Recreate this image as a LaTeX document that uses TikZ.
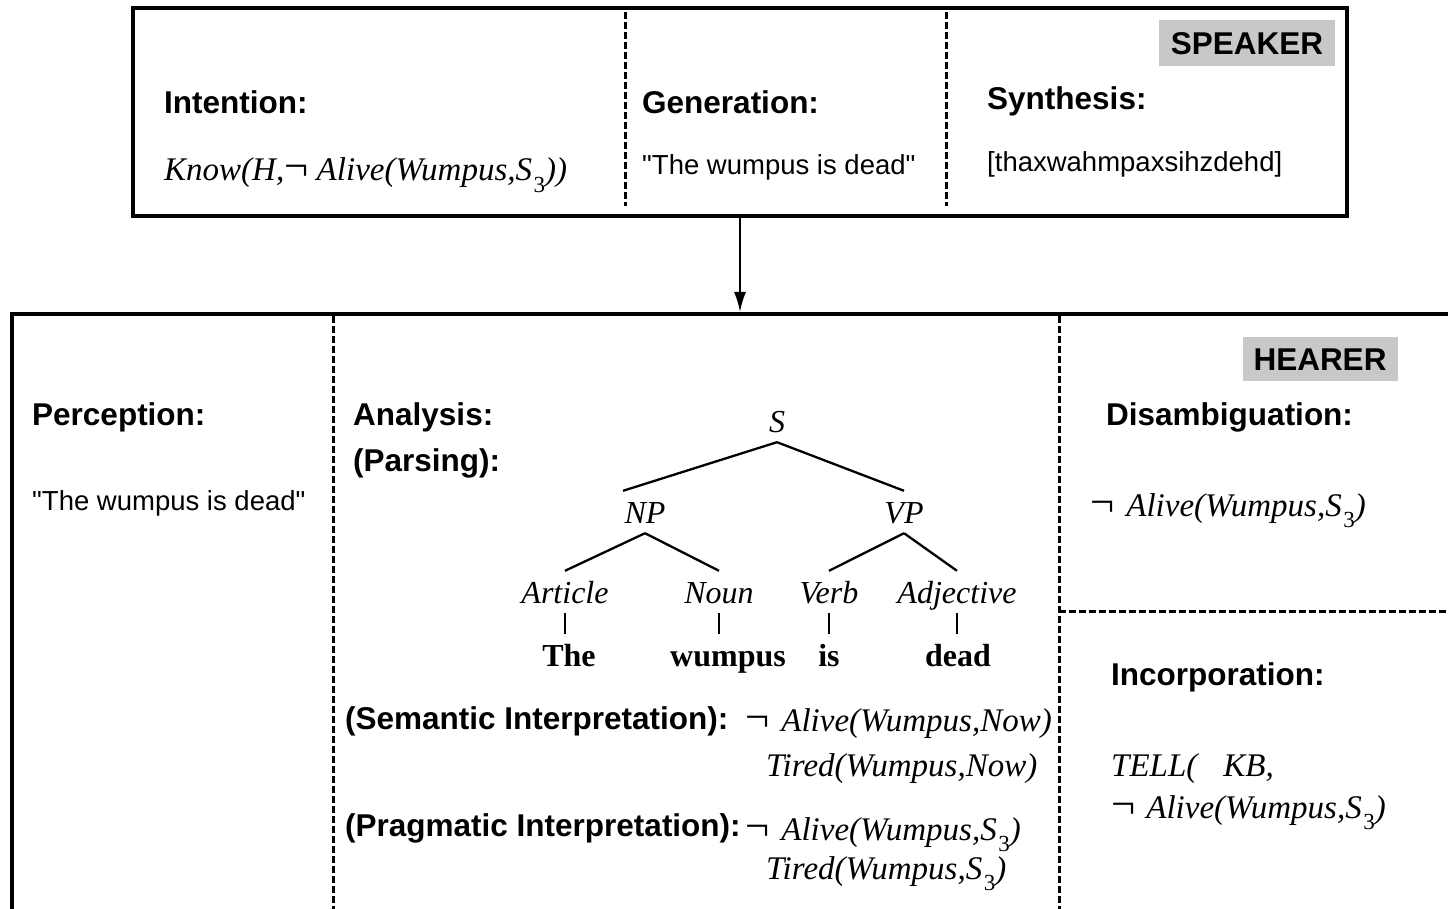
\documentclass[tikz,border=0pt]{standalone}
\usepackage{fontspec}
\usepackage{graphicx}
\setmainfont{Liberation Serif}
\setsansfont{Liberation Sans}[Ligatures=TeXOff]
\usetikzlibrary{arrows.meta}
\definecolor{tagbg}{RGB}{200,200,200}
\newcommand{\subthree}{\kern1.5pt\raisebox{-0.34em}{\upshape\fontsize{23}{23}\selectfont 3}}
\newcommand{\negsym}{\scalebox{1.3}{\upshape ¬}}
\tikzset{
  lab/.style={anchor=base west, inner sep=0pt, font=\sffamily\bfseries\fontsize{31.5}{36}\selectfont},
  plain/.style={anchor=base west, inner sep=0pt, font=\sffamily\fontsize{27.5}{32}\selectfont},
  form/.style={anchor=base west, inner sep=0pt, font=\itshape\fontsize{33}{36}\selectfont},
  tnode/.style={anchor=base, inner xsep=0pt, inner ysep=10pt, text height=22pt, text depth=0pt, font=\itshape\fontsize{32}{36}\selectfont},
  word/.style={anchor=base, inner xsep=0pt, inner ysep=10pt, text height=22pt, text depth=0pt, font=\bfseries\fontsize{32}{36}\selectfont},
  tag/.style={fill=tagbg, inner sep=0pt, text height=23pt, text depth=0pt, font=\sffamily\bfseries\fontsize{31.5}{36}\selectfont},
  frame/.style={line width=4pt},
  divider/.style={line width=3pt, dash pattern=on 7pt off 3pt},
  branch/.style={line width=2.3pt},
  flow/.style={line width=2pt, -{Latex[length=20pt,width=12pt]}}
}
\begin{document}
\begin{tikzpicture}[x=1pt,y=-1pt]
\useasboundingbox (0,0) rectangle (1448,909);
\clip (0,0) rectangle (1448,909);
% speaker box
\draw[frame] (133,8) rectangle (1347,216);
\draw[divider] (625,12) -- (625,206);
\draw[divider] (946,12) -- (946,206);
\node[tag, minimum width=176pt, minimum height=46pt] (spk) at (1247,43) {SPEAKER};
\node[lab] (intl) at (164,114) {Intention:};
\node[form] (intf) at (164,181) {Know(H,\negsym\ Alive(Wumpus,S\subthree))};
\node[lab] (genl) at (642,114) {Generation:};
\node[plain] (genf) at (642,175) {"The wumpus is dead"};
\node[lab] (synl) at (987,110) {Synthesis:};
\node[plain] (synf) at (987,172) {[thaxwahmpaxsihzdehd]};
% arrow
\coordinate (src) at (740,218);
\coordinate (dst) at (740,312);
\draw[flow] (src) -- (dst);
% hearer box
\draw[frame] (1470,314) -- (12,314) -- (12,930);
\draw[divider] (333,316) -- (333,909);
\draw[divider] (1059,316) -- (1059,909);
\draw[divider] (1059,611) -- (1448,611);
\node[tag, minimum width=155pt, minimum height=44pt] (hear) at (1320,359) {HEARER};
\node[lab] (perl) at (32,425) {Perception:};
\node[plain] (perf) at (32,510) {"The wumpus is dead"};
\node[lab] (anl) at (353,425) {Analysis:};
\node[lab] (parl) at (353,471) {(Parsing):};
% parse tree
\node[tnode] (S) at (777,432) {S};
\node[tnode] (NP) at (645,523) {NP};
\node[tnode] (VP) at (904,523) {VP};
\node[tnode] (Art) at (565,603) {Article};
\node[tnode] (Noun) at (719,603) {Noun};
\node[tnode] (Verb) at (829,603) {Verb};
\node[tnode] (Adj) at (957,603) {Adjective};
\node[word] (wThe) at (569,666) {The};
\node[word] (wWum) at (728,666) {wumpus};
\node[word] (wIs) at (829,666) {is};
\node[word] (wDead) at (958,666) {dead};
\draw[branch] (S.south) -- ([xshift=-22pt]NP.north);
\draw[branch] (S.south) -- (VP.north);
\draw[branch] (NP.south) -- (Art.north);
\draw[branch] (NP.south) -- (Noun.north);
\draw[branch] (VP.south) -- (Verb.north);
\draw[branch] (VP.south) -- (Adj.north);
\draw[branch] (Art.south) -- (Art.south |- wThe.north);
\draw[branch] (Noun.south) -- (Noun.south |- wWum.north);
\draw[branch] (Verb.south) -- (Verb.south |- wIs.north);
\draw[branch] (Adj.south) -- (Adj.south |- wDead.north);
% interpretations
\node[lab] (seml) at (345,729) {(Semantic Interpretation):};
\node[form] (sem1) at (745,731) {\negsym\hspace{12pt}Alive(Wumpus,Now)};
\node[form] (sem2) at (766,776) {Tired(Wumpus,Now)};
\node[lab] (pral) at (345,836) {(Pragmatic Interpretation):};
\node[form] (pra1) at (745,840) {\negsym\hspace{12pt}Alive(Wumpus,S\subthree)};
\node[form] (pra2) at (766,879) {Tired(Wumpus,S\subthree)};
% right column
\node[lab] (disl) at (1106,425) {Disambiguation:};
\node[form] (disf) at (1090,516) {\negsym\hspace{12pt}Alive(Wumpus,S\subthree)};
\node[lab] (incl) at (1111,685) {Incorporation:};
\node[form] (inc1) at (1111,776) {TELL(\hspace{26pt}KB,};
\node[form] (inc2) at (1111,818) {\negsym\hspace{11pt}Alive(Wumpus,S\subthree)};
\end{tikzpicture}
\end{document}
